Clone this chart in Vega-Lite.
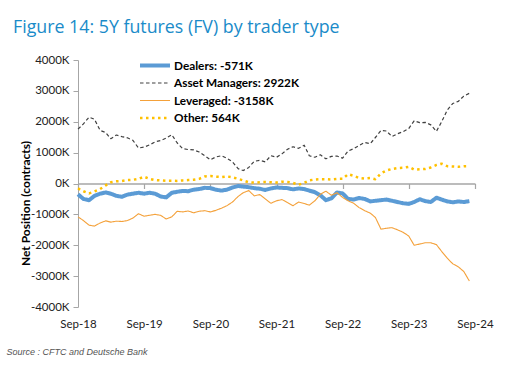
{
  "$schema": "https://vega.github.io/schema/vega-lite/v6.json",
  "width": 397,
  "height": 247,
  "autosize": {"type": "none"},
  "padding": {"left": 78, "top": 60, "right": 31, "bottom": 66},
  "background": "white",
  "title": {
    "text": "Figure 14: 5Y futures (FV) by trader type",
    "anchor": "start",
    "frame": "group",
    "dx": -65,
    "dy": 26,
    "offset": 29,
    "baseline": "alphabetic",
    "font": "Open Sans",
    "fontSize": 17.8,
    "fontWeight": "normal",
    "color": "#1a8bc9"
  },
  "config": {"view": {"stroke": null}, "font": "Lato"},
  "data": {
    "values": [
      {"date": "2018-09-01", "Dealers": -350, "Asset Managers": 1760, "Leveraged": -1080, "Other": -160},
      {"date": "2018-10-01", "Dealers": -500, "Asset Managers": 1930, "Leveraged": -1200, "Other": -250},
      {"date": "2018-11-01", "Dealers": -540, "Asset Managers": 2150, "Leveraged": -1350, "Other": -320},
      {"date": "2018-12-01", "Dealers": -400, "Asset Managers": 2080, "Leveraged": -1380, "Other": -260},
      {"date": "2019-01-01", "Dealers": -330, "Asset Managers": 1720, "Leveraged": -1280, "Other": -180},
      {"date": "2019-02-01", "Dealers": -290, "Asset Managers": 1650, "Leveraged": -1210, "Other": -60},
      {"date": "2019-03-01", "Dealers": -330, "Asset Managers": 1450, "Leveraged": -1250, "Other": 40},
      {"date": "2019-04-01", "Dealers": -400, "Asset Managers": 1570, "Leveraged": -1220, "Other": 70},
      {"date": "2019-05-01", "Dealers": -430, "Asset Managers": 1520, "Leveraged": -1230, "Other": 80},
      {"date": "2019-06-01", "Dealers": -360, "Asset Managers": 1480, "Leveraged": -1200, "Other": 110},
      {"date": "2019-07-01", "Dealers": -330, "Asset Managers": 1400, "Leveraged": -1120, "Other": 120},
      {"date": "2019-08-01", "Dealers": -300, "Asset Managers": 1150, "Leveraged": -980, "Other": 150},
      {"date": "2019-09-01", "Dealers": -330, "Asset Managers": 1180, "Leveraged": -1060, "Other": 220},
      {"date": "2019-10-01", "Dealers": -300, "Asset Managers": 1250, "Leveraged": -1030, "Other": 150},
      {"date": "2019-11-01", "Dealers": -330, "Asset Managers": 1350, "Leveraged": -1000, "Other": 110},
      {"date": "2019-12-01", "Dealers": -420, "Asset Managers": 1390, "Leveraged": -1030, "Other": 100},
      {"date": "2020-01-01", "Dealers": -450, "Asset Managers": 1470, "Leveraged": -1150, "Other": 90},
      {"date": "2020-02-01", "Dealers": -300, "Asset Managers": 1580, "Leveraged": -1080, "Other": 90},
      {"date": "2020-03-01", "Dealers": -270, "Asset Managers": 1320, "Leveraged": -900, "Other": 85},
      {"date": "2020-04-01", "Dealers": -240, "Asset Managers": 1130, "Leveraged": -920, "Other": 100},
      {"date": "2020-05-01", "Dealers": -250, "Asset Managers": 1100, "Leveraged": -890, "Other": 110},
      {"date": "2020-06-01", "Dealers": -200, "Asset Managers": 1090, "Leveraged": -950, "Other": 120},
      {"date": "2020-07-01", "Dealers": -180, "Asset Managers": 1020, "Leveraged": -900, "Other": 150},
      {"date": "2020-08-01", "Dealers": -140, "Asset Managers": 900, "Leveraged": -880, "Other": 230},
      {"date": "2020-09-01", "Dealers": -150, "Asset Managers": 770, "Leveraged": -920, "Other": 240},
      {"date": "2020-10-01", "Dealers": -200, "Asset Managers": 860, "Leveraged": -870, "Other": 220},
      {"date": "2020-11-01", "Dealers": -230, "Asset Managers": 900, "Leveraged": -800, "Other": 210},
      {"date": "2020-12-01", "Dealers": -200, "Asset Managers": 820, "Leveraged": -720, "Other": 230},
      {"date": "2021-01-01", "Dealers": -130, "Asset Managers": 700, "Leveraged": -600, "Other": 200},
      {"date": "2021-02-01", "Dealers": -80, "Asset Managers": 480, "Leveraged": -420, "Other": 150},
      {"date": "2021-03-01", "Dealers": -100, "Asset Managers": 420, "Leveraged": -300, "Other": 100},
      {"date": "2021-04-01", "Dealers": -120, "Asset Managers": 520, "Leveraged": -230, "Other": 40},
      {"date": "2021-05-01", "Dealers": -150, "Asset Managers": 720, "Leveraged": -400, "Other": 30},
      {"date": "2021-06-01", "Dealers": -170, "Asset Managers": 750, "Leveraged": -360, "Other": 40},
      {"date": "2021-07-01", "Dealers": -210, "Asset Managers": 700, "Leveraged": -500, "Other": 50},
      {"date": "2021-08-01", "Dealers": -160, "Asset Managers": 900, "Leveraged": -640, "Other": 40},
      {"date": "2021-09-01", "Dealers": -130, "Asset Managers": 850, "Leveraged": -560, "Other": 30},
      {"date": "2021-10-01", "Dealers": -140, "Asset Managers": 960, "Leveraged": -520, "Other": 60},
      {"date": "2021-11-01", "Dealers": -150, "Asset Managers": 1110, "Leveraged": -620, "Other": 50},
      {"date": "2021-12-01", "Dealers": -190, "Asset Managers": 1190, "Leveraged": -720, "Other": 20},
      {"date": "2022-01-01", "Dealers": -160, "Asset Managers": 1140, "Leveraged": -600, "Other": -40},
      {"date": "2022-02-01", "Dealers": -180, "Asset Managers": 1240, "Leveraged": -650, "Other": 20},
      {"date": "2022-03-01", "Dealers": -230, "Asset Managers": 900, "Leveraged": -700, "Other": 100},
      {"date": "2022-04-01", "Dealers": -280, "Asset Managers": 850, "Leveraged": -560, "Other": 130},
      {"date": "2022-05-01", "Dealers": -380, "Asset Managers": 930, "Leveraged": -350, "Other": 140},
      {"date": "2022-06-01", "Dealers": -540, "Asset Managers": 800, "Leveraged": -250, "Other": 140},
      {"date": "2022-07-01", "Dealers": -480, "Asset Managers": 880, "Leveraged": -380, "Other": 130},
      {"date": "2022-08-01", "Dealers": -290, "Asset Managers": 890, "Leveraged": -300, "Other": 150},
      {"date": "2022-09-01", "Dealers": -320, "Asset Managers": 820, "Leveraged": -450, "Other": 150},
      {"date": "2022-10-01", "Dealers": -500, "Asset Managers": 1050, "Leveraged": -560, "Other": 300},
      {"date": "2022-11-01", "Dealers": -520, "Asset Managers": 1130, "Leveraged": -640, "Other": 250},
      {"date": "2022-12-01", "Dealers": -470, "Asset Managers": 1230, "Leveraged": -780, "Other": 180},
      {"date": "2023-01-01", "Dealers": -500, "Asset Managers": 1330, "Leveraged": -880, "Other": 160},
      {"date": "2023-02-01", "Dealers": -580, "Asset Managers": 1290, "Leveraged": -960, "Other": 180},
      {"date": "2023-03-01", "Dealers": -560, "Asset Managers": 1490, "Leveraged": -1100, "Other": 140},
      {"date": "2023-04-01", "Dealers": -540, "Asset Managers": 1720, "Leveraged": -1480, "Other": 330},
      {"date": "2023-05-01", "Dealers": -520, "Asset Managers": 1700, "Leveraged": -1450, "Other": 420},
      {"date": "2023-06-01", "Dealers": -560, "Asset Managers": 1520, "Leveraged": -1430, "Other": 470},
      {"date": "2023-07-01", "Dealers": -600, "Asset Managers": 1610, "Leveraged": -1500, "Other": 500},
      {"date": "2023-08-01", "Dealers": -640, "Asset Managers": 1680, "Leveraged": -1580, "Other": 510},
      {"date": "2023-09-01", "Dealers": -660, "Asset Managers": 1780, "Leveraged": -1700, "Other": 540},
      {"date": "2023-10-01", "Dealers": -600, "Asset Managers": 2030, "Leveraged": -2000, "Other": 450},
      {"date": "2023-11-01", "Dealers": -510, "Asset Managers": 1970, "Leveraged": -1960, "Other": 460},
      {"date": "2023-12-01", "Dealers": -570, "Asset Managers": 1980, "Leveraged": -1920, "Other": 470},
      {"date": "2024-01-01", "Dealers": -600, "Asset Managers": 1900, "Leveraged": -1920, "Other": 520},
      {"date": "2024-02-01", "Dealers": -460, "Asset Managers": 1690, "Leveraged": -1980, "Other": 600},
      {"date": "2024-03-01", "Dealers": -520, "Asset Managers": 2000, "Leveraged": -2200, "Other": 640},
      {"date": "2024-04-01", "Dealers": -580, "Asset Managers": 2380, "Leveraged": -2420, "Other": 560},
      {"date": "2024-05-01", "Dealers": -610, "Asset Managers": 2590, "Leveraged": -2600, "Other": 550},
      {"date": "2024-06-01", "Dealers": -580, "Asset Managers": 2660, "Leveraged": -2700, "Other": 540},
      {"date": "2024-07-01", "Dealers": -600, "Asset Managers": 2830, "Leveraged": -2850, "Other": 560},
      {"date": "2024-08-01", "Dealers": -571, "Asset Managers": 2922, "Leveraged": -3158, "Other": 564}
    ]
  },
  "transform": [
    {"fold": ["Dealers", "Asset Managers", "Leveraged", "Other"], "as": ["series", "value"]}
  ],
  "encoding": {
    "y": {
      "field": "value",
      "type": "quantitative",
      "scale": {"domain": [-4000, 4000], "nice": false, "zero": false},
      "axis": {
        "values": [-4000, -3000, -2000, -1000, 0, 1000, 2000, 3000, 4000],
        "labelExpr": "datum.value + 'K'",
        "grid": false,
        "domainColor": "#a6a6a6",
        "domainWidth": 1,
        "tickColor": "#a6a6a6",
        "tickSize": 5,
        "labelPadding": 4,
        "labelFont": "Lato",
        "labelFontSize": 11.5,
        "labelColor": "#222222",
        "title": "Net Position (contracts)",
        "titleFont": "Lato",
        "titleFontSize": 12,
        "titleFontWeight": "bold",
        "titleColor": "#000000",
        "titleAlign": "center",
        "titleBaseline": "middle",
        "titleAngle": -90,
        "titleX": -53,
        "titleY": 143
      }
    }
  },
  "layer": [
    {
      "mark": {"type": "line", "opacity": 0},
      "encoding": {
        "x": {
          "field": "date",
          "type": "temporal",
          "scale": {"type": "utc", "domain": [1535760000000, 1725148800000], "nice": false},
          "axis": {
            "orient": "bottom",
            "offset": -123.5,
            "values": [1535760000000, 1567296000000, 1598918400000, 1630454400000, 1661990400000, 1693526400000, 1725148800000],
            "labels": false,
            "grid": false,
            "domain": true,
            "domainColor": "#a6a6a6",
            "domainWidth": 1.5,
            "ticks": true,
            "tickColor": "#a6a6a6",
            "tickSize": 5,
            "tickWidth": 1.2,
            "title": null
          }
        }
      }
    },
    {
      "mark": {"type": "line", "strokeCap": "butt", "strokeJoin": "round"},
      "encoding": {
        "x": {
          "field": "date",
          "type": "temporal",
          "scale": {"type": "utc", "domain": [1535760000000, 1725148800000], "nice": false},
          "axis": {
            "orient": "bottom",
            "values": [1535760000000, 1567296000000, 1598918400000, 1630454400000, 1661990400000, 1693526400000, 1725148800000],
            "labelExpr": "utcFormat(datum.value, '%b-%y')",
            "labelOverlap": false,
            "labelFlush": false,
            "domain": false,
            "ticks": false,
            "grid": false,
            "labelPadding": 11,
            "labelFont": "Lato",
            "labelFontSize": 11.5,
            "labelColor": "#222222",
            "title": "Source : CFTC and Deutsche Bank",
            "titleAnchor": "start",
            "titleAlign": "left",
            "titleBaseline": "middle",
            "titleX": -72,
            "titleY": 44,
            "titleFont": "Liberation Sans",
            "titleFontStyle": "italic",
            "titleFontWeight": "normal",
            "titleFontSize": 9,
            "titleColor": "#555555"
          }
        },
        "color": {
          "field": "series",
          "type": "nominal",
          "scale": {"domain": ["Dealers", "Asset Managers", "Leveraged", "Other"], "range": ["#5b9bd5", "#404040", "#f4a13a", "#ffc000"]},
          "legend": {"orient": "none", "legendX": 60, "legendY": -1, "title": null, "padding": 0, "symbolSize": 900, "clipHeight": 13, "rowPadding": 3.5, "labelFont": "Lato", "labelFontWeight": "bold", "labelFontSize": 11.8, "labelColor": "#000000", "labelOffset": 2, "labelLimit": 300, "labelExpr": "datum.label == 'Dealers' ? 'Dealers: -571K' : datum.label == 'Asset Managers' ? 'Asset Managers: 2922K' : datum.label == 'Leveraged' ? 'Leveraged: -3158K' : 'Other: 564K'"}
        },
        "strokeDash": {
          "field": "series",
          "type": "nominal",
          "scale": {"type": "ordinal", "domain": ["Dealers", "Asset Managers", "Leveraged", "Other"], "range": [[1, 0], [3.5, 2.5], [1, 0], [2.5, 3.5]]},
          "legend": {"orient": "none", "legendX": 60, "legendY": -1, "title": null, "padding": 0, "symbolSize": 900, "clipHeight": 13, "rowPadding": 3.5, "labelFont": "Lato", "labelFontWeight": "bold", "labelFontSize": 11.8, "labelColor": "#000000", "labelOffset": 2, "labelLimit": 300, "labelExpr": "datum.label == 'Dealers' ? 'Dealers: -571K' : datum.label == 'Asset Managers' ? 'Asset Managers: 2922K' : datum.label == 'Leveraged' ? 'Leveraged: -3158K' : 'Other: 564K'"}
        },
        "strokeWidth": {
          "field": "series",
          "type": "nominal",
          "scale": {"type": "ordinal", "domain": ["Dealers", "Asset Managers", "Leveraged", "Other"], "range": [4, 1.2, 1.1, 2.5]},
          "legend": {"orient": "none", "legendX": 60, "legendY": -1, "title": null, "padding": 0, "symbolSize": 900, "clipHeight": 13, "rowPadding": 3.5, "labelFont": "Lato", "labelFontWeight": "bold", "labelFontSize": 11.8, "labelColor": "#000000", "labelOffset": 2, "labelLimit": 300, "labelExpr": "datum.label == 'Dealers' ? 'Dealers: -571K' : datum.label == 'Asset Managers' ? 'Asset Managers: 2922K' : datum.label == 'Leveraged' ? 'Leveraged: -3158K' : 'Other: 564K'"}
        }
      }
    }
  ],
  "resolve": {"axis": {"x": "independent"}}
}
